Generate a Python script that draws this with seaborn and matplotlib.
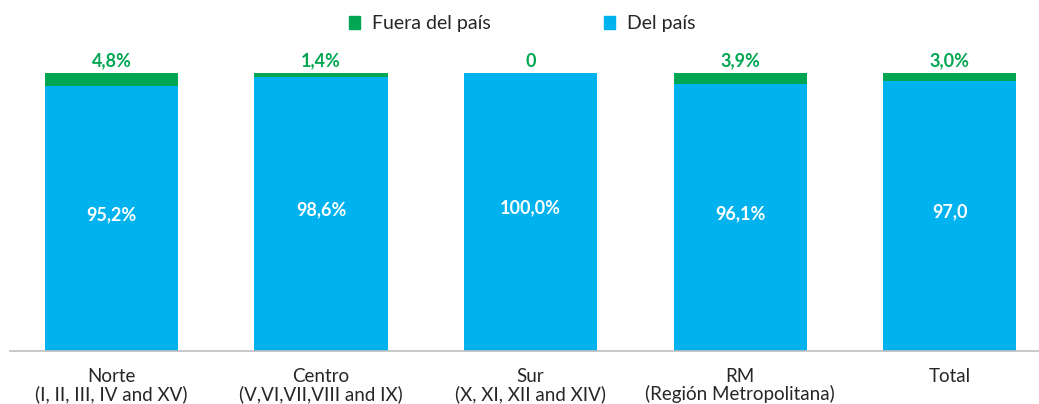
import matplotlib
matplotlib.use("Agg")
import matplotlib.pyplot as plt
import seaborn as sns
import pandas as pd
from matplotlib.patches import Patch

# Data
regions = ["Norte\n(I, II, III, IV and XV)", "Centro\n(V,VI,VII,VIII and IX)",
           "Sur\n(X, XI, XII and XIV)", "RM\n(Región Metropolitana)", "Total"]
del_pais = [95.2, 98.6, 100.0, 96.1, 97.0]
fuera_pais = [4.8, 1.4, 0.0, 3.9, 3.0]
del_labels = ["95,2%", "98,6%", "100,0%", "96,1%", "97,0"]
fuera_labels = ["4,8%", "1,4%", "0", "3,9%", "3,0%"]

blue = "#00B2EE"
green = "#00A651"

sns.set_theme(style="white")
plt.rcParams["font.family"] = ["Lato", "DejaVu Sans"]

df = pd.DataFrame({"region": regions, "del": del_pais, "fuera": fuera_pais})
df["total"] = df["del"] + df["fuera"]

fig = plt.figure(figsize=(10.39, 4.04), dpi=100)
ax = fig.add_axes([10 / 1039, 53 / 404, 1029 / 1039, 278 / 404])

# green drawn as full stack, blue overlaid on top of it
sns.barplot(data=df, x="region", y="total", color=green, width=0.635,
            saturation=1, linewidth=0, ax=ax)
sns.barplot(data=df, x="region", y="del", color=blue, width=0.635,
            saturation=1, linewidth=0, ax=ax)

ax.set_xlim(-0.4845, 4.427)
ax.set_ylim(0, 100)

for i in range(len(regions)):
    ax.text(i, df["total"][i] + 1.2, fuera_labels[i], ha="center", va="bottom",
            color=green, fontsize=13, fontweight="bold")
    ax.text(i, del_pais[i] / 2 + 1.5, del_labels[i], ha="center", va="center",
            color="white", fontsize=13, fontweight="bold")

ax.set_xlabel("")
ax.set_ylabel("")
ax.set_yticks([])
ax.tick_params(axis="x", labelsize=13.5, colors="#262626", length=0, pad=12)
for lab in ax.get_xticklabels():
    lab.set_linespacing(1.05)
for s in ["top", "right", "left"]:
    ax.spines[s].set_visible(False)
ax.spines["bottom"].set_color("#BFBFBF")
ax.spines["bottom"].set_linewidth(1.2)

handles = [Patch(color=green, label="Fuera del país"),
           Patch(color=blue, label="Del país")]
fig.legend(handles=handles, loc="center", bbox_to_anchor=(522 / 1039, 1 - 24 / 404),
           ncol=2, frameon=False, fontsize=14, handlelength=0.6, handleheight=0.6,
           handletextpad=0.6, columnspacing=5.8, labelcolor="#262626")

fig.savefig("out.png", dpi=100)
